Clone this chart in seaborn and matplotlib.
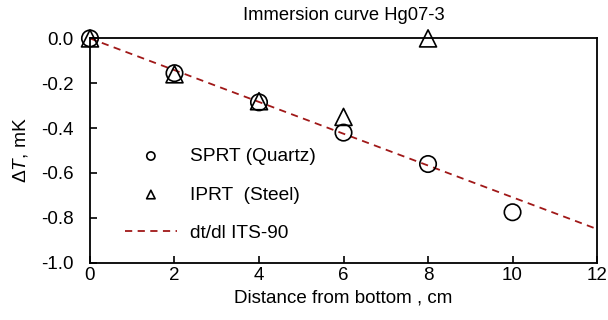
import matplotlib
matplotlib.use("Agg")
import matplotlib.pyplot as plt
import matplotlib.ticker as mticker
import seaborn as sns

# data
sprt_x = [0, 2, 4, 6, 8, 10]
sprt_y = [0.0, -0.155, -0.285, -0.42, -0.56, -0.775]
iprt_x = [0, 2, 4, 6, 8]
iprt_y = [0.0, -0.16, -0.28, -0.35, 0.0]
its_x = [0, 12]
its_y = [0.0, -0.85]

sns.set_style("ticks")
plt.rcParams["font.family"] = ["Liberation Sans", "DejaVu Sans"]
plt.rcParams["mathtext.fontset"] = "custom"
plt.rcParams["mathtext.it"] = "Liberation Sans:italic"
plt.rcParams["mathtext.rm"] = "Liberation Sans"
plt.rcParams["text.color"] = "black"
plt.rcParams["axes.labelcolor"] = "black"

fig = plt.figure(figsize=(6.08, 3.2), dpi=100)
ax = fig.add_axes([0.148, 0.179, 0.834, 0.701])

sns.lineplot(x=its_x, y=its_y, ax=ax, color="#a01818", linestyle=(0, (4, 3)),
             linewidth=1.3, label="dt/dl ITS-90")
sns.scatterplot(x=sprt_x, y=sprt_y, ax=ax, marker="o", s=140, facecolor="none",
                edgecolor="black", linewidth=1.2, label="SPRT (Quartz)", clip_on=False, zorder=5)
sns.scatterplot(x=iprt_x, y=iprt_y, ax=ax, marker="^", s=150, facecolor="none",
                edgecolor="black", linewidth=1.2, label="IPRT  (Steel)", clip_on=False, zorder=5)

ax.set_xlim(0, 12)
ax.set_ylim(-1.0, 0.0)
ax.set_xticks(range(0, 13, 2))
ax.set_yticks([0.0, -0.2, -0.4, -0.6, -0.8, -1.0])
ax.yaxis.set_major_formatter(mticker.FuncFormatter(lambda v, p: f"{v:.1f}".replace("\u2212", "-")))
ax.tick_params(direction="in", length=5, width=1.2, labelsize=13.5, colors="black")
ax.tick_params(axis="x", pad=3)
ax.tick_params(axis="y", pad=12)
for s in ax.spines.values():
    s.set_linewidth(1.3)
    s.set_color("black")

ax.set_title("Immersion curve Hg07-3", fontsize=13.2, pad=13)
ax.set_xlabel("Distance from bottom , cm", fontsize=13.5, labelpad=4)
ax.set_ylabel(r"$\Delta T$, mK", fontsize=13.8, labelpad=8)

h, l = ax.get_legend_handles_labels()
order = [1, 2, 0]
leg = ax.legend([h[i] for i in order], [l[i] for i in order], loc="upper left",
                bbox_to_anchor=(0.035, 0.59), frameon=False, fontsize=13.8,
                labelspacing=1.1, handlelength=2.7, handletextpad=0.7, markerscale=0.5)

fig.savefig("out.png", dpi=100)
